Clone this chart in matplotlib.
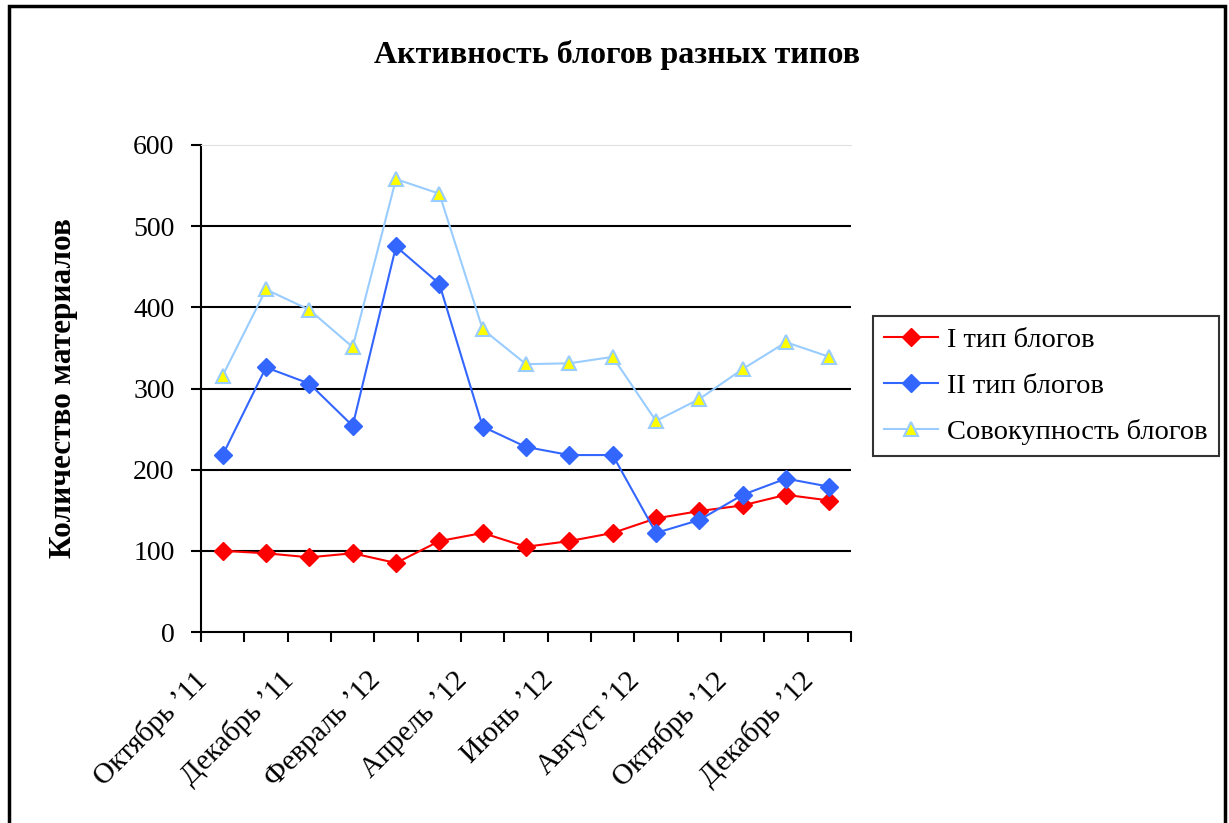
import matplotlib.pyplot as plt
from matplotlib.patches import Rectangle
from matplotlib.transforms import ScaledTranslation

plt.rcParams['font.family'] = ['Liberation Serif', 'DejaVu Serif']

# monthly series, October 2011 - December 2012
months = ["Октябрь ’11", "Ноябрь ’11", "Декабрь ’11", "Январь ’12", "Февраль ’12",
          "Март ’12", "Апрель ’12", "Май ’12", "Июнь ’12", "Июль ’12", "Август ’12",
          "Сентябрь ’12", "Октябрь ’12", "Ноябрь ’12", "Декабрь ’12"]
type1 = [100, 97, 92, 97, 85, 112, 122, 105, 112, 122, 140, 149, 156, 169, 162]
type2 = [218, 326, 306, 254, 475, 429, 253, 228, 218, 218, 122, 138, 169, 189, 179]
total = [316, 422, 397, 351, 558, 540, 373, 330, 331, 339, 260, 287, 324, 357, 339]

fig = plt.figure(figsize=(12.29, 8.23), dpi=100)
ax = fig.add_axes([201 / 1229, 1 - 632 / 823, 650 / 1229, 487 / 823])

x = list(range(len(months)))
ax.plot(x, type1, color='#FF0000', lw=1.5, marker='D', ms=9,
        mfc='#FF0000', mec='#FF0000', label='I тип блогов')
ax.plot(x, type2, color='#3366FF', lw=1.5, marker='D', ms=9,
        mfc='#3366FF', mec='#3366FF', label='II тип блогов')
ax.plot(x, total, color='#99CCFF', lw=1.5, marker='^', ms=10.5, mew=1.5,
        mfc='#FFFF00', mec='#99CCFF', label='Совокупность блогов')

ax.set_xlim(-0.5, len(months) - 0.5)
ax.set_ylim(0, 600)
ax.set_yticks(range(0, 601, 100))
for v in range(100, 600, 100):
    ax.axhline(v, color='black', lw=1.5, zorder=0)

# tick marks on category boundaries, labels on every other month
ax.set_xticks([i - 0.5 for i in range(len(months) + 1)])
ax.set_xticklabels([])
ax.set_xticks(x[::2], minor=True)
ax.set_xticklabels(months[::2], minor=True, rotation=45, ha='right',
                   va='center', rotation_mode='anchor')
ax.tick_params(axis='x', which='major', direction='out', length=7, width=1.5)
ax.tick_params(axis='x', which='minor', length=0, pad=32, labelsize=21)
ax.tick_params(axis='y', direction='out', length=7, width=1.5, pad=12,
               labelsize=20)

# nudge the slanted month labels a little to the left
shift = ScaledTranslation(-20 / 100, 0, fig.dpi_scale_trans)
for lbl in ax.get_xticklabels(minor=True):
    lbl.set_transform(lbl.get_transform() + shift)

for side in ('left', 'bottom'):
    ax.spines[side].set_linewidth(1.5)
ax.spines['right'].set_visible(False)
ax.spines['top'].set_color('#E0E0E0')

ax.set_ylabel('Количество материалов', fontsize=22.5, fontweight='bold',
              labelpad=40)
fig.text(617 / 1229, 1 - 55 / 823, 'Активность блогов разных типов',
         ha='center', va='center', fontsize=23, fontweight='bold')

leg = ax.legend(loc='center left', bbox_to_anchor=(873 / 1229, 1 - 386 / 823),
                bbox_transform=fig.transFigure, fontsize=20.5, frameon=True,
                fancybox=False, edgecolor='black', handlelength=1.9,
                handletextpad=0.3, borderpad=0.4, labelspacing=0.7,
                borderaxespad=0)
leg.get_frame().set_linewidth(1.5)

# outer chart frame
fig.patches.append(Rectangle((9 / 1229, -0.05), 1216 / 1229, 1.05 - 6 / 823,
                             transform=fig.transFigure, fill=False,
                             edgecolor='black', lw=2.5))

fig.savefig('out.png', dpi=100)
